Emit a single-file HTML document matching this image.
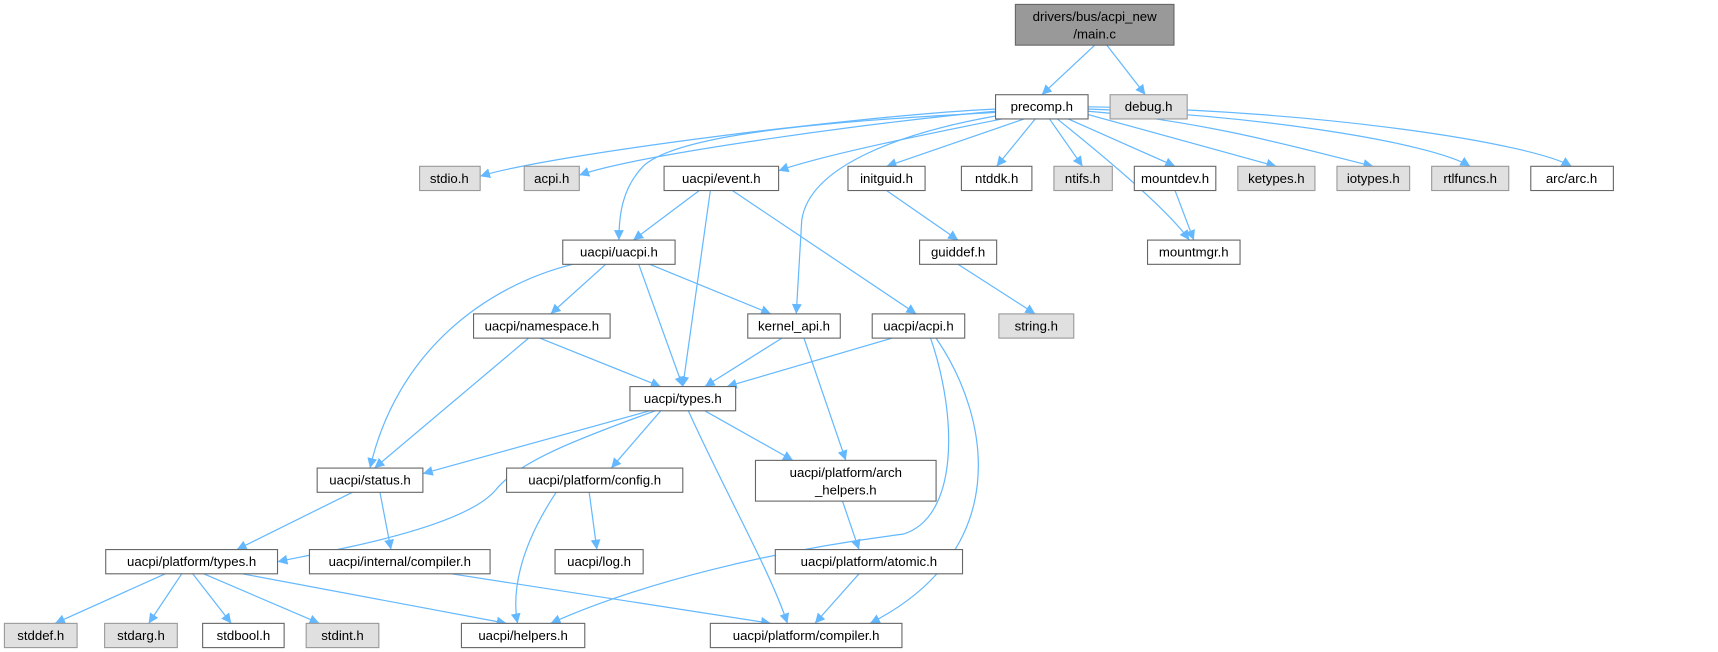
<!DOCTYPE html>
<html><head><meta charset="utf-8"><style>
html,body{margin:0;padding:0;background:#fff;}
svg{display:block}
text{font-family:"Liberation Sans",sans-serif;font-size:12px;fill:#000;text-anchor:middle}
.e{fill:none;stroke:#63b8ff;stroke-width:1.1;marker-end:url(#a)}
.n rect{fill:#fff;stroke:#666;stroke-width:1}
.g rect{fill:#e0e0e0;stroke:#999;stroke-width:1}
</style></head><body>
<svg width="1718" height="652" viewBox="0 0 1560 592" preserveAspectRatio="none" xmlns="http://www.w3.org/2000/svg">
<defs><marker id="a" viewBox="0 0 10 10" refX="10" refY="5" markerWidth="9" markerHeight="9" markerUnits="userSpaceOnUse" orient="auto"><path d="M0,0 L10,5 L0,10 z" fill="#63b8ff"/></marker></defs>
<g>
<path class="e" d="M994,41 L946,86"/>
<path class="e" d="M1005,41 L1040,86"/>
<path class="e" d="M904,99 C780,105 500,140 436,160"/>
<path class="e" d="M904,101 C800,110 580,140 526,159"/>
<path class="e" d="M910,108 C850,120 750,140 707,155"/>
<path class="e" d="M904,102 C760,110 620,120 585,150 C565,170 562,195 562,218"/>
<path class="e" d="M906,105 C820,120 735,150 728,200 L723,285"/>
<path class="e" d="M930,108 L805,151"/>
<path class="e" d="M940,108 L905,151"/>
<path class="e" d="M953,108 L983,151"/>
<path class="e" d="M970,108 L1067,151"/>
<path class="e" d="M960,108 C1000,140 1060,190 1080,218"/>
<path class="e" d="M988,104 L1159,151"/>
<path class="e" d="M988,101 C1100,110 1200,140 1247,151"/>
<path class="e" d="M988,99 C1150,105 1300,130 1335,151"/>
<path class="e" d="M988,97 C1200,100 1390,130 1427,151"/>
<path class="e" d="M635,173 L575,218"/>
<path class="e" d="M645,173 L620,351"/>
<path class="e" d="M665,173 L832,285"/>
<path class="e" d="M805,173 L870,218"/>
<path class="e" d="M870,240 L940,285"/>
<path class="e" d="M1067,173 L1084,218"/>
<path class="e" d="M520,240 C440,260 360,320 336,425"/>
<path class="e" d="M550,240 L500,285"/>
<path class="e" d="M580,240 L620,351"/>
<path class="e" d="M590,240 L700,285"/>
<path class="e" d="M480,307 L340,425"/>
<path class="e" d="M490,307 L600,351"/>
<path class="e" d="M710,307 L640,351"/>
<path class="e" d="M730,307 L768,418"/>
<path class="e" d="M810,307 L660,351"/>
<path class="e" d="M845,307 C870,380 870,470 820,485 C700,500 580,530 500,566"/>
<path class="e" d="M850,307 C900,380 920,500 790,566"/>
<path class="e" d="M590,373 L384,430"/>
<path class="e" d="M595,373 C520,400 470,420 450,445 C420,480 300,500 252,510"/>
<path class="e" d="M600,373 L555,425"/>
<path class="e" d="M640,373 L720,418"/>
<path class="e" d="M625,373 C660,450 700,520 715,566"/>
<path class="e" d="M320,447 L215,499"/>
<path class="e" d="M345,447 L355,499"/>
<path class="e" d="M505,447 C470,500 465,540 470,566"/>
<path class="e" d="M535,447 L542,499"/>
<path class="e" d="M765,455 L780,499"/>
<path class="e" d="M780,521 L740,566"/>
<path class="e" d="M410,521 L700,566"/>
<path class="e" d="M150,521 L50,566"/>
<path class="e" d="M165,521 L135,566"/>
<path class="e" d="M175,521 L210,566"/>
<path class="e" d="M185,521 L290,566"/>
<path class="e" d="M220,521 L460,566"/>
</g>
<g>
<rect x="922" y="4" width="144" height="37" fill="#999" stroke="#666"/>
<text x="994" y="19">drivers/bus/acpi_new</text><text x="994" y="35">/main.c</text>
<g class="n"><rect x="904" y="86" width="84" height="22"/><text x="946" y="101">precomp.h</text></g>
<g class="g"><rect x="1008" y="86" width="70" height="22"/><text x="1043" y="101">debug.h</text></g>
<g class="g"><rect x="381" y="151" width="55" height="22"/><text x="408" y="166">stdio.h</text></g>
<g class="g"><rect x="476" y="151" width="50" height="22"/><text x="501" y="166">acpi.h</text></g>
<g class="n"><rect x="603" y="151" width="104" height="22"/><text x="655" y="166">uacpi/event.h</text></g>
<g class="n"><rect x="770" y="151" width="70" height="22"/><text x="805" y="166">initguid.h</text></g>
<g class="n"><rect x="873" y="151" width="64" height="22"/><text x="905" y="166">ntddk.h</text></g>
<g class="g"><rect x="957" y="151" width="53" height="22"/><text x="983" y="166">ntifs.h</text></g>
<g class="n"><rect x="1030" y="151" width="74" height="22"/><text x="1067" y="166">mountdev.h</text></g>
<g class="g"><rect x="1124" y="151" width="70" height="22"/><text x="1159" y="166">ketypes.h</text></g>
<g class="g"><rect x="1214" y="151" width="66" height="22"/><text x="1247" y="166">iotypes.h</text></g>
<g class="g"><rect x="1300" y="151" width="70" height="22"/><text x="1335" y="166">rtlfuncs.h</text></g>
<g class="n"><rect x="1390" y="151" width="75" height="22"/><text x="1427" y="166">arc/arc.h</text></g>
<g class="n"><rect x="511" y="218" width="102" height="22"/><text x="562" y="233">uacpi/uacpi.h</text></g>
<g class="n"><rect x="835" y="218" width="70" height="22"/><text x="870" y="233">guiddef.h</text></g>
<g class="n"><rect x="1042" y="218" width="84" height="22"/><text x="1084" y="233">mountmgr.h</text></g>
<g class="n"><rect x="430" y="285" width="124" height="22"/><text x="492" y="300">uacpi/namespace.h</text></g>
<g class="n"><rect x="679" y="285" width="84" height="22"/><text x="721" y="300">kernel_api.h</text></g>
<g class="n"><rect x="792" y="285" width="84" height="22"/><text x="834" y="300">uacpi/acpi.h</text></g>
<g class="g"><rect x="907" y="285" width="68" height="22"/><text x="941" y="300">string.h</text></g>
<g class="n"><rect x="572" y="351" width="96" height="22"/><text x="620" y="366">uacpi/types.h</text></g>
<g class="n"><rect x="288" y="425" width="96" height="22"/><text x="336" y="440">uacpi/status.h</text></g>
<g class="n"><rect x="460" y="425" width="160" height="22"/><text x="540" y="440">uacpi/platform/config.h</text></g>
<g class="n"><rect x="686" y="418" width="164" height="37"/><text x="768" y="433">uacpi/platform/arch</text><text x="768" y="449">_helpers.h</text></g>
<g class="n"><rect x="96" y="499" width="156" height="22"/><text x="174" y="514">uacpi/platform/types.h</text></g>
<g class="n"><rect x="281" y="499" width="164" height="22"/><text x="363" y="514">uacpi/internal/compiler.h</text></g>
<g class="n"><rect x="504" y="499" width="80" height="22"/><text x="544" y="514">uacpi/log.h</text></g>
<g class="n"><rect x="704" y="499" width="170" height="22"/><text x="789" y="514">uacpi/platform/atomic.h</text></g>
<g class="g"><rect x="4" y="566" width="66" height="22"/><text x="37" y="581">stddef.h</text></g>
<g class="g"><rect x="95" y="566" width="66" height="22"/><text x="128" y="581">stdarg.h</text></g>
<g class="n"><rect x="184" y="566" width="74" height="22"/><text x="221" y="581">stdbool.h</text></g>
<g class="g"><rect x="278" y="566" width="66" height="22"/><text x="311" y="581">stdint.h</text></g>
<g class="n"><rect x="419" y="566" width="112" height="22"/><text x="475" y="581">uacpi/helpers.h</text></g>
<g class="n"><rect x="645" y="566" width="174" height="22"/><text x="732" y="581">uacpi/platform/compiler.h</text></g>
</g>
</svg>
</body></html>
